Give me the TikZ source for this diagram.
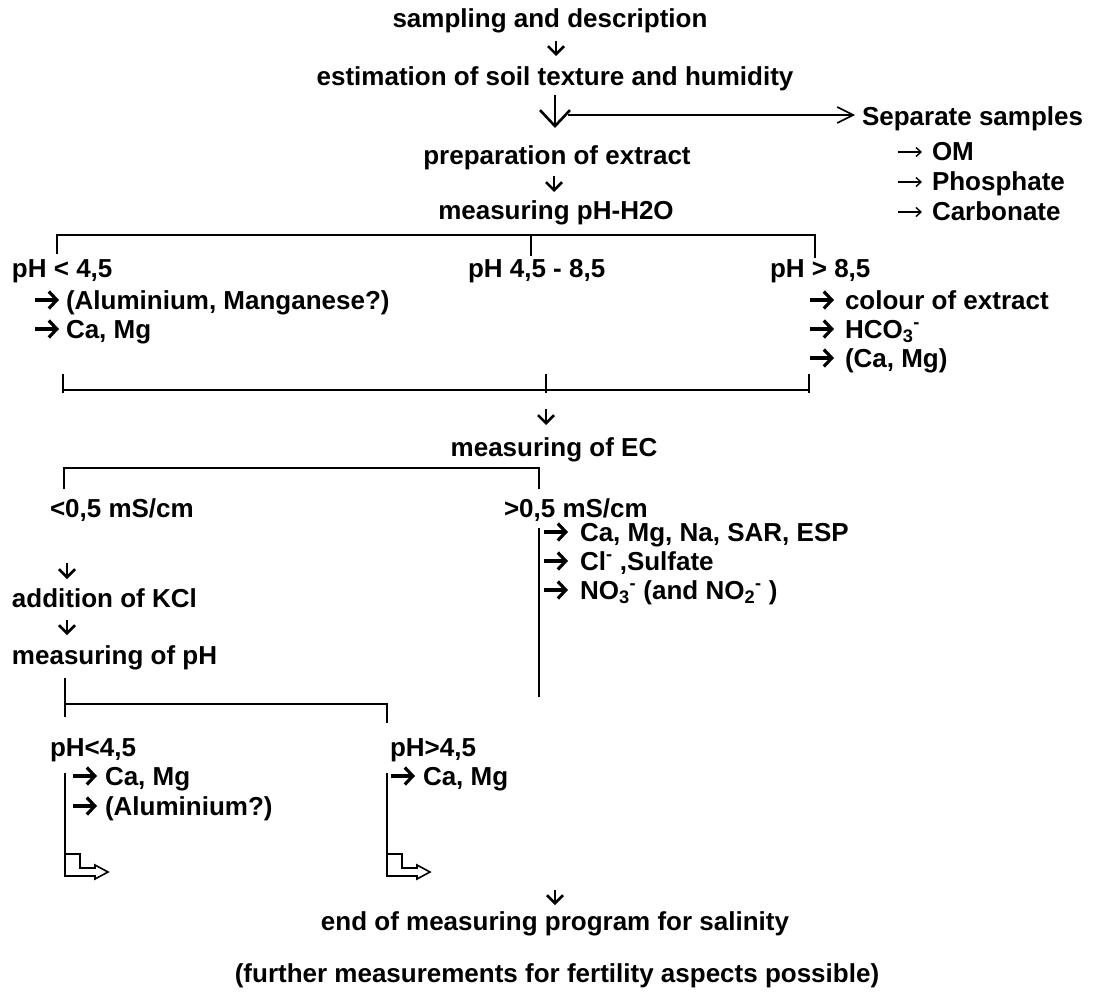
\documentclass[tikz,border=0pt]{standalone}
\usepackage{fontspec}
\setmainfont{Liberation Sans}
\usetikzlibrary{arrows.meta}
\begin{document}
\begin{tikzpicture}[x=1pt,y=-1pt,
  every node/.style={inner sep=0pt,outer sep=0pt,font=\fontsize{26}{30}\selectfont\bfseries},
  txt/.style={anchor=base west},
  ctxt/.style={anchor=base},
  ln/.style={line width=1.8pt},
  sarr/.style={line width=2.6pt,-{Straight Barb[length=8pt,width=16pt]}},
  bigarr/.style={line width=2.6pt,-{Straight Barb[length=16pt,width=30pt]}},
  harr/.style={line width=1.6pt,-{Straight Barb[length=16pt,width=16pt]}},
  lba/.style={line width=3.2pt,-{Straight Barb[length=8pt,width=17pt]}},
  lta/.style={line width=1.4pt,-{Straight Barb[length=5pt,width=9pt]}},
  larr/.style={line width=1.6pt,line join=miter},
]
\fill[white] (0,0) rectangle (1098,996);
\useasboundingbox (0,0) rectangle (1098,996);

% --- top column ---
\node[ctxt] (samp) at (550,27) {sampling and description};
\node[ctxt] (est) at (555,85) {estimation of soil texture and humidity};
\node[ctxt] (prep) at (557,164) {preparation of extract};
\node[ctxt] (mph) at (556,219) {measuring pH-H2O};

\draw[sarr] ([shift={(6,14)}]samp.base) -- ([shift={(6,29)}]samp.base);
\draw[bigarr] ([shift={(0,10)}]est.base) -- ([shift={(0,43)}]est.base);
\coordinate (bj) at ([shift={(13,30)}]est.base);
\draw[sarr] ([shift={(-3,12)}]prep.base) -- ([shift={(-3,28)}]prep.base);

% --- separate samples ---
\node[txt] (sep) at (862,125) {Separate samples};
\node[txt] (om) at (932,160) {OM};
\node[txt] (pho) at (932,190) {Phosphate};
\node[txt] (carb) at (932,220) {Carbonate};
\foreach \n in {om,pho,carb} \draw[lta] ([shift={(-34,-8)}]\n.base west) -- ++(24,0);
\draw[harr,shorten >=7pt] (bj) -- (bj -| sep.west);

% --- pH bracket ---
\coordinate (b1l) at (57,235);
\coordinate (b1m) at (531,235);
\coordinate (b1r) at (815,235);
\draw[ln] ([shift={(0,19)}]b1l) -- (b1l) -- (b1r) -- ([shift={(0,23)}]b1r);
\draw[ln] (b1m) -- ([shift={(0,21)}]b1m);

\node[txt] (lt) at (12,277) {pH < 4,5};
\node[txt] (mid) at (468,277) {pH 4,5 - 8,5};
\node[txt] (gt) at (770,277) {pH > 8,5};
\node[txt] (al) at (66,309) {(Aluminium, Manganese?)};
\node[txt] (cm1) at (66,338) {Ca, Mg};
\foreach \n in {al,cm1} \draw[lba] ([shift={(-31,-9)}]\n.base west) -- ++(24,0);
\node[txt] (col) at (845,309) {colour of extract};
\node[txt] (hco) at (845,338) {HCO\textsubscript{3}\textsuperscript{-}};
\node[txt] (cm2) at (845,367) {(Ca, Mg)};
\foreach \n in {col,hco,cm2} \draw[lba] ([shift={(-35,-9)}]\n.base west) -- ++(24,0);

% --- lower bracket ---
\coordinate (b2l) at (63,390);
\coordinate (b2m) at (546,390);
\coordinate (b2r) at (809,390);
\draw[ln] (b2l) -- (b2r);
\foreach \c in {b2l,b2m,b2r} \draw[ln] ([shift={(0,-16)}]\c) -- ([shift={(0,3)}]\c);

\node[ctxt] (ec) at (554,456) {measuring of EC};
\draw[sarr] ([shift={(0,19)}]b2m) -- ([shift={(0,35)}]b2m);

% --- EC bracket ---
\coordinate (b3l) at (64,468);
\coordinate (b3r) at (539,468);
\draw[ln] ([shift={(0,21)}]b3l) -- (b3l) -- (b3r) -- ([shift={(0,21)}]b3r);

\node[txt] (lo) at (50,517) {<0,5 mS/cm};
\node[txt] (hi) at (504,517) {>0,5 mS/cm};
\node[txt] (h1) at (580,541) {Ca, Mg, Na, SAR, ESP};
\node[txt] (h2) at (580,570) {Cl\textsuperscript{-} ,Sulfate};
\node[txt] (h3) at (580,599) {NO\textsubscript{3}\textsuperscript{-} (and NO\textsubscript{2}\textsuperscript{-} )};
\foreach \n in {h1,h2,h3} \draw[lba] ([shift={(-36,-9)}]\n.base west) -- ++(24,0);
\coordinate (vt) at (539,528);
\draw[ln] (vt) -- ([shift={(0,169)}]vt);

\node[txt] (kcl) at (12,607) {addition of KCl};
\node[txt] (mpk) at (12,664) {measuring of pH};
\draw[sarr] ([shift={(55,-44)}]kcl.base west) -- ([shift={(55,-28)}]kcl.base west);
\draw[sarr] ([shift={(55,-44)}]mpk.base west) -- ([shift={(55,-29)}]mpk.base west);

% --- KCl pH bracket ---
\coordinate (b4l) at (65,704);
\coordinate (b4r) at (387,704);
\draw[ln] ([shift={(0,-26)}]b4l) -- ([shift={(0,13)}]b4l);
\draw[ln] (b4l) -- (b4r) -- ([shift={(0,19)}]b4r);

\node[txt] (p1) at (50,756) {pH<4,5};
\node[txt] (p2) at (390,756) {pH>4,5};
\node[txt] (c1) at (105,785) {Ca, Mg};
\node[txt] (c2) at (105,815) {(Aluminium?)};
\node[txt] (c3) at (423,785) {Ca, Mg};
\foreach \n in {c1,c2,c3} \draw[lba] ([shift={(-32,-9)}]\n.base west) -- ++(24,0);

\foreach \dx in {0,322}{
  \draw[larr,shift={(\dx,0)}] (65,773) -- (65,876) -- (95,876) -- (95,879) -- (108,872)
     -- (95,865) -- (95,868) -- (80,868) -- (80,854) -- (65,854);
}

% --- end ---
\node[ctxt] (end) at (555,930) {end of measuring program for salinity};
\node[ctxt] (fur) at (557,982) {(further measurements for fertility aspects possible)};
\draw[sarr] ([shift={(0,-40)}]end.base) -- ([shift={(0,-25)}]end.base);
\end{tikzpicture}
\end{document}
